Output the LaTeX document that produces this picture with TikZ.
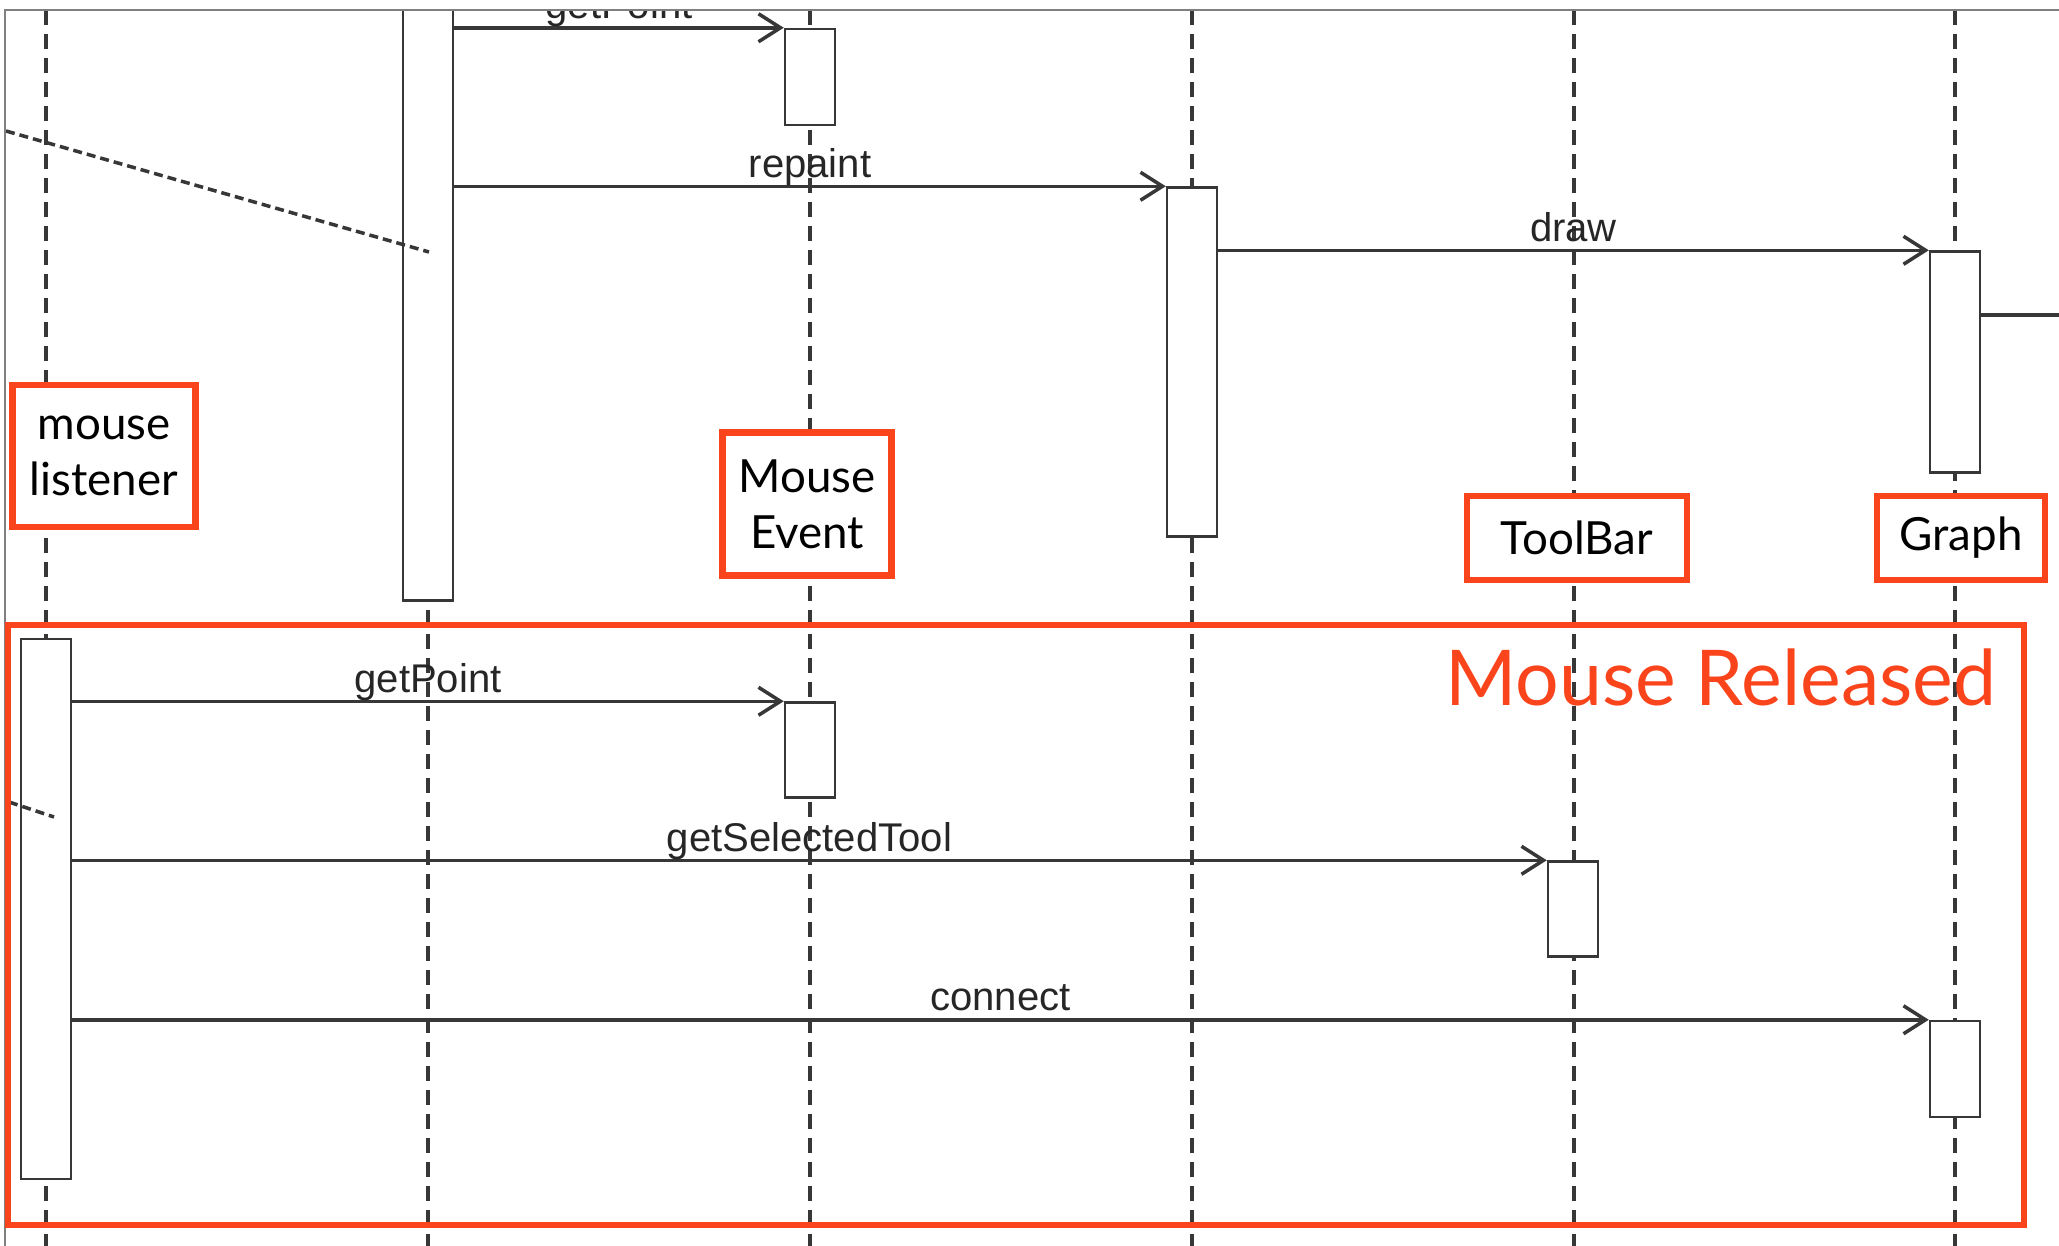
\documentclass[tikz,border=0pt]{standalone}
\usepackage{fontspec}
\setmainfont{Liberation Sans}
\newfontfamily\notefont{Lato}
\usetikzlibrary{arrows.meta}
\definecolor{notered}{RGB}{250,68,28}
\definecolor{umlgray}{RGB}{55,55,55}

\begin{document}
\begin{tikzpicture}[x=0.1mm, y=-0.1mm,
    life/.style={draw=umlgray, line width=0.9pt, dash pattern=on 1.5mm off 0.9mm},
    act/.style={draw=umlgray, fill=white, line width=0.7pt, minimum width=5mm, inner sep=0pt},
    msg/.style={draw=umlgray, line width=1pt, -{Straight Barb[length=2.2mm,width=2.8mm]}},
    ret/.style={draw=umlgray, line width=1pt, dash pattern=on 0.9mm off 0.5mm},
    lbl/.style={midway, anchor=base, yshift=0.9mm, inner sep=0pt, text=black!85,
      font=\fontsize{11.4pt}{13pt}\selectfont},
    note/.style={draw=notered, line width=1.8pt, fill=white, align=center, inner sep=0pt,
      font=\notefont\fontsize{13pt}{16pt}\selectfont}]
  \useasboundingbox (0,0) rectangle (2059,1246);
  \begin{scope}
    \clip (5,10) rectangle (2059,1246);
    % lifelines
    \foreach \x in {46,428,810,1192,1574,1955}
      \draw[life] (\x,10) -- (\x,1246);
    % activation bars
    \node[act, minimum height=60.1mm] (a2) at (428,300) {};
    \node[act, minimum height=9.6mm] (a3a) at (810,77) {};
    \node[act, minimum height=34.9mm] (a4) at (1192,362) {};
    \node[act, minimum height=22.1mm] (a6a) at (1955,362) {};
    \node[act, minimum height=54mm] (a1) at (46,909) {};
    \node[act, minimum height=9.5mm] (a3b) at (810,750) {};
    \node[act, minimum height=9.5mm] (a5) at (1573,909) {};
    \node[act, minimum height=9.6mm] (a6b) at (1955,1069) {};
    % messages
    \draw[msg] (a2.east |- a3a.north) -- (a3a.north west) node[lbl] {getPoint};
    \draw[msg] (a2.east |- a4.north) -- (a4.north west) node[lbl] {repaint};
    \draw[msg] (a4.east |- a6a.north) -- (a6a.north west) node[lbl] {draw};
    \coordinate (edge) at (2059,315);
    \draw[umlgray, line width=1pt] (a6a.east |- edge) -- (edge);
    \draw[msg] (a1.east |- a3b.north) -- (a3b.north west) node[lbl] {getPoint};
    \draw[msg] (a1.east |- a5.north) -- (a5.north west) node[lbl] {getSelectedTool};
    \draw[msg] (a1.east |- a6b.north) -- (a6b.north west) node[lbl] {connect};
    % cut-off returns
    \coordinate (r1a) at (6,131);
    \coordinate (r1b) at (429,252);
    \draw[ret] (r1a) -- (r1b);
    \coordinate (r2a) at (9,802);
    \coordinate (r2b) at (54,817);
    \draw[ret] (r2a) -- (r2b);
  \end{scope}
  \draw[gray, line width=0.6pt] (5,1246) -- (5,10) -- (2059,10);
  % notes
  \node[note, minimum width=18.3mm, minimum height=14.2mm] (mlis) at (104,456) {mouse\\listener};
  \node[note, minimum width=16.9mm, minimum height=14.3mm] (mev) at (807,504) {Mouse\\Event};
  \node[note, minimum width=22mm, minimum height=8.4mm] (tbar) at (1577,538) {ToolBar};
  \node[note, minimum width=16.8mm, minimum height=8.4mm] (graph) at (1961,538) {Graph};
  \draw[notered, line width=1.8pt] (8,625) rectangle (2024,1225);
  \node[anchor=base east, inner sep=0pt, text=notered,
    font=\notefont\fontsize{21.9pt}{26pt}\selectfont] (rel) at (1997,705) {Mouse Released};
\end{tikzpicture}
\end{document}
